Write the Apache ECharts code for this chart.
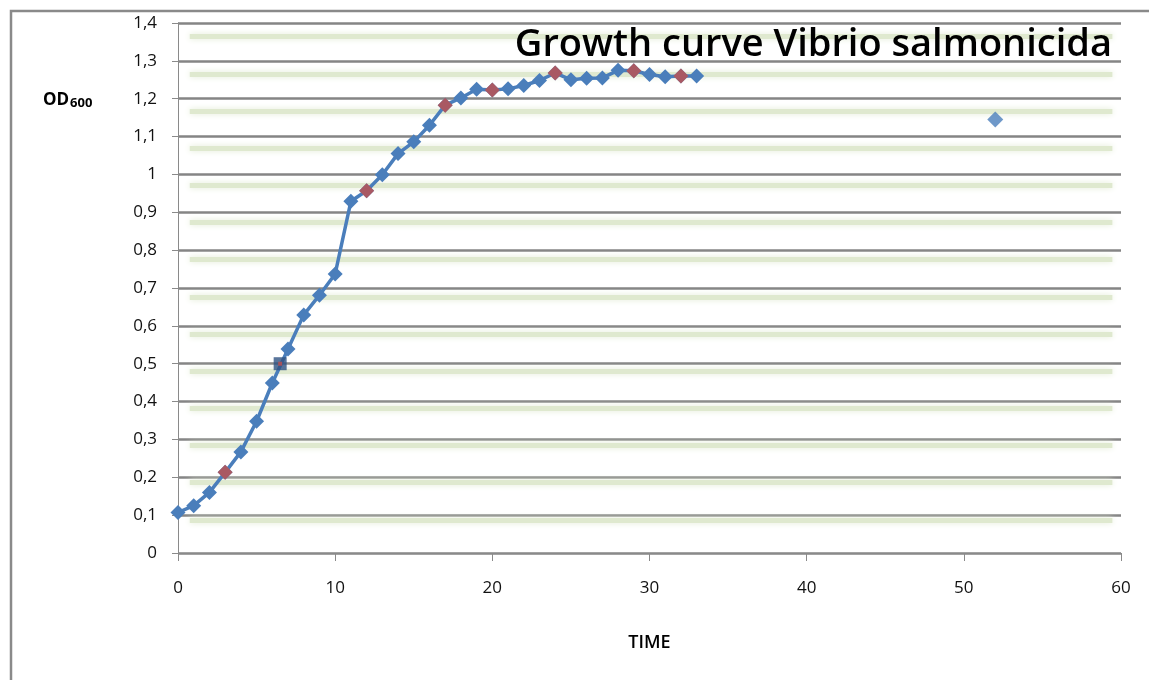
<!DOCTYPE html>
<html>
<head>
<meta charset="utf-8">
<script src="https://cdn.jsdelivr.net/npm/echarts@6/dist/echarts.min.js"></script>
<style>
    html, body { margin: 0; padding: 0; background: #fff; }
    #main { width: 1149px; height: 680px; }
</style>
</head>
<body>
<div id="main"></div>
<script>
// sampling times (h) and OD600 readings of the growth curve
var time = [0, 1, 2, 3, 4, 5, 6, 7, 8, 9, 10, 11, 12, 13, 14, 15, 16,
    17, 18, 19, 20, 21, 22, 23, 24, 25, 26, 27, 28, 29, 30, 31, 32, 33];
var od = [0.107, 0.125, 0.160, 0.213, 0.267, 0.348, 0.449, 0.539, 0.629, 0.681,
    0.737, 0.929, 0.957, 0.999, 1.055, 1.086, 1.130, 1.183, 1.202, 1.225,
    1.223, 1.226, 1.235, 1.248, 1.268, 1.250, 1.254, 1.255, 1.275, 1.274,
    1.264, 1.258, 1.260, 1.260];
// times that were marked red on the curve
var redTimes = [3, 12, 17, 20, 24, 29, 32];
// mid-log sample (square marker)
var midTime = [6.5];
var midOd = [0.5];
// late reading, not connected
var lateTime = [52];
var lateOd = [1.145];
// axis ticks
var xTicks = [0, 10, 20, 30, 40, 50, 60];
var yTicks = [0, 0.1, 0.2, 0.3, 0.4, 0.5, 0.6, 0.7, 0.8, 0.9, 1, 1.1, 1.2, 1.3, 1.4];

var chart = echarts.init(document.getElementById('main'), null, { renderer: 'canvas' });

function pairs(xs, ys) {
    return xs.map(function (x, i) { return [x, ys[i]]; });
}
var mainData = pairs(time, od);
var redData = redTimes.map(function (t) { return [t, od[time.indexOf(t)]]; });

// soft green bands behind the grid (decoration from the original sheet)
var bandLines = [];
for (var i = 0; i < 14; i++) {
    var v = 1.364 - i * 0.0982;
    bandLines.push([{ coord: [0.75, v] }, { coord: [59.45, v] }]);
}

var blue = '#4a7ebb';
var red = '#c0504d';
var font = 'Open Sans';

var option = {
    animation: false,
    backgroundColor: '#fff',
    textStyle: { fontFamily: font },
    title: [
        {
            text: 'Growth curve Vibrio salmonicida',
            right: 37,
            top: 26,
            padding: 0,
            textStyle: { fontFamily: font, fontSize: 38, fontWeight: 600, color: '#000' }
        },
        {
            text: '{a|OD}{b|600}',
            left: 43,
            top: 90,
            padding: 0,
            textStyle: {
                rich: {
                    a: { fontFamily: font, fontSize: 17, fontWeight: 'bold', color: '#000' },
                    b: { fontFamily: font, fontSize: 13, fontWeight: 'bold', color: '#000', padding: [7, 0, 0, 1] }
                }
            }
        }
    ],
    graphic: [
        { // outer frame
            type: 'polyline',
            shape: { points: [[11, 680], [11, 11], [1149, 11]] },
            style: { stroke: '#8a8a8a', lineWidth: 2.5, fill: null },
            silent: true
        }
    ],
    grid: { left: 178, right: 28, top: 23, bottom: 127 },
    xAxis: {
        type: 'value',
        min: 0,
        max: 60,
        interval: 10,
        name: 'TIME',
        nameLocation: 'middle',
        nameGap: 81,
        nameTextStyle: { fontFamily: font, fontSize: 18, fontWeight: 600, color: '#000' },
        axisLine: { show: true, lineStyle: { color: '#8a8a8a', width: 1 } },
        axisTick: { show: true, length: 8, lineStyle: { color: '#8a8a8a' } },
        axisLabel: {
            margin: 27, fontSize: 17, color: '#111',
            customValues: xTicks
        },
        splitLine: { show: false }
    },
    yAxis: {
        type: 'value',
        min: 0,
        max: 1.4,
        interval: 0.1,
        axisLine: { show: true, lineStyle: { color: '#8a8a8a', width: 1 } },
        axisTick: { show: true, length: 6, lineStyle: { color: '#8a8a8a' } },
        axisLabel: {
            margin: 21, fontSize: 17, color: '#111',
            formatter: function (val) {
                var t = yTicks.find(function (y) { return Math.abs(y - val) < 1e-6; });
                return t === undefined ? '' : String(t).replace('.', ',');
            }
        },
        splitLine: { show: true, lineStyle: { color: '#858585', width: 2.5 } }
    },
    series: [
        {   // green bands
            type: 'line',
            data: [],
            z: 0,
            silent: true,
            markLine: {
                z: 0,
                silent: true,
                symbol: 'none',
                label: { show: false },
                lineStyle: { color: '#dfe9cf', width: 5, type: 'solid', shadowColor: '#e3ecd6', shadowBlur: 6 },
                data: bandLines
            }
        },
        {
            name: 'OD600',
            type: 'line',
            data: mainData,
            symbol: 'diamond',
            symbolSize: 15,
            lineStyle: { color: blue, width: 3.5 },
            itemStyle: { color: blue },
            z: 3
        },
        {
            name: 'marked',
            type: 'scatter',
            data: redData,
            symbol: 'diamond',
            symbolSize: 15,
            itemStyle: { color: red },
            z: 4
        },
        {
            name: 'mid-log',
            type: 'scatter',
            data: pairs(midTime, midOd),
            symbol: 'rect',
            symbolSize: 13,
            itemStyle: { color: '#2f5382' },
            z: 4
        },
        {
            name: 'mid-log centre',
            type: 'scatter',
            data: pairs(midTime, midOd),
            symbol: 'rect',
            symbolSize: 4,
            itemStyle: { color: red },
            z: 5
        },
        {
            name: 'late',
            type: 'scatter',
            data: pairs(lateTime, lateOd),
            symbol: 'diamond',
            symbolSize: 16,
            itemStyle: { color: blue },
            z: 4
        }
    ]
};

chart.setOption(option);
</script>
</body>
</html>
